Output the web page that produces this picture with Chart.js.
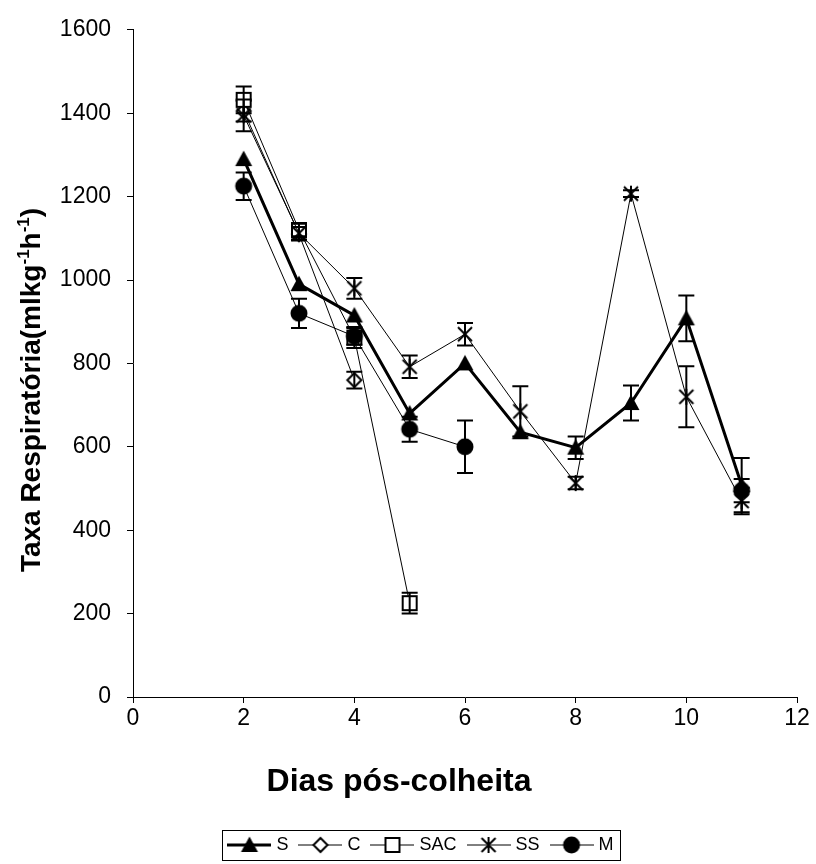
<!DOCTYPE html>
<html>
<head>
<meta charset="utf-8">
<script src="https://cdn.jsdelivr.net/npm/chart.js@4.4.0/dist/chart.umd.min.js"></script>
<style>
  html, body { margin: 0; padding: 0; background: #fff; }
</style>
</head>
<body>
<canvas id="taxaChart" width="816" height="864"></canvas>
<script>
// Dados (taxa respiratória, mL kg-1 h-1)
const dias = [2, 3, 4, 5, 6, 7, 8, 9, 10, 11];

const valoresS   = [1290, 990, 915, 680, 800, 635, 598, 705, 908, 508];
const errosS     = [0, 0, 0, 0, 0, 0, 27, 42, 55, 65];

const valoresC   = [1405, 1110, 760, null, null, null, null, null, null, null];
const errosC     = [25, 15, 20, 0, 0, 0, 0, 0, 0, 0];

const valoresSAC = [1432, 1120, 862, 225, null, null, null, null, null, null];
const errosSAC   = [32, 15, 25, 25, 0, 0, 0, 0, 0, 0];

const valoresSS  = [1395, 1112, 980, 792, 870, 685, 513, 1207, 720, 470];
const errosSS    = [38, 15, 25, 27, 27, 60, 15, 8, 73, 32];

const valoresM   = [1225, 920, 865, 642, 600, null, null, null, null, 495];
const errosM     = [33, 35, 20, 30, 63, 0, 0, 0, 0, 28];

const ticksX = { min: 0, max: 12, passo: 2 };
const ticksY = { min: 0, max: 1600, passo: 200 };

const fonte = "'Liberation Sans', Arial, sans-serif";

// desenha um marcador no estilo do Excel
function desenhaMarcador(ctx, tipo, cx, cy) {
    ctx.save();
    ctx.strokeStyle = '#000';
    ctx.fillStyle = '#000';
    if (tipo === 'triangulo') {
        ctx.beginPath();
        ctx.moveTo(cx, cy - 8.5);
        ctx.lineTo(cx + 8.5, cy + 7);
        ctx.lineTo(cx - 8.5, cy + 7);
        ctx.closePath();
        ctx.fill();
    } else if (tipo === 'losango') {
        ctx.lineWidth = 2;
        ctx.fillStyle = '#fff';
        ctx.beginPath();
        ctx.moveTo(cx, cy - 7);
        ctx.lineTo(cx + 7, cy);
        ctx.lineTo(cx, cy + 7);
        ctx.lineTo(cx - 7, cy);
        ctx.closePath();
        ctx.fill();
        ctx.stroke();
    } else if (tipo === 'quadrado') {
        ctx.lineWidth = 2;
        ctx.fillStyle = '#fff';
        ctx.fillRect(cx - 7, cy - 7, 14, 14);
        ctx.strokeRect(cx - 7, cy - 7, 14, 14);
    } else if (tipo === 'asterisco') {
        ctx.lineWidth = 2;
        ctx.beginPath();
        ctx.moveTo(cx - 7, cy - 7); ctx.lineTo(cx + 7, cy + 7);
        ctx.moveTo(cx + 7, cy - 7); ctx.lineTo(cx - 7, cy + 7);
        ctx.moveTo(cx, cy - 8); ctx.lineTo(cx, cy + 8);
        ctx.stroke();
    } else if (tipo === 'circulo') {
        ctx.beginPath();
        ctx.arc(cx, cy, 8.5, 0, Math.PI * 2);
        ctx.fill();
    }
    ctx.restore();
}

function marcador(tipo) {
    const c = document.createElement('canvas');
    c.width = 22; c.height = 22;
    desenhaMarcador(c.getContext('2d'), tipo, 11, 11);
    return c;
}

// amostra da legenda: linha + marcador
function amostraLegenda(tipo, espessura) {
    const c = document.createElement('canvas');
    c.width = 44; c.height = 22;
    const ctx = c.getContext('2d');
    ctx.strokeStyle = '#000';
    ctx.lineWidth = espessura;
    ctx.beginPath();
    ctx.moveTo(0, 11); ctx.lineTo(44, 11);
    ctx.stroke();
    desenhaMarcador(ctx, tipo, 22, 11);
    return c;
}

const series = [
    { nome: 'S',   valores: valoresS,   erros: errosS,   tipo: 'triangulo', espessura: 3 },
    { nome: 'C',   valores: valoresC,   erros: errosC,   tipo: 'losango',   espessura: 1 },
    { nome: 'SAC', valores: valoresSAC, erros: errosSAC, tipo: 'quadrado',  espessura: 1 },
    { nome: 'SS',  valores: valoresSS,  erros: errosSS,  tipo: 'asterisco', espessura: 1 },
    { nome: 'M',   valores: valoresM,   erros: errosM,   tipo: 'circulo',   espessura: 1 }
];

// barras de erro, desenhadas logo depois de cada série
const barrasErro = {
    id: 'barrasErro',
    afterDatasetDraw(chart, args) {
        const ds = chart.data.datasets[args.index];
        if (!ds.erros) return;
        const y = chart.scales.y;
        const ctx = chart.ctx;
        ctx.save();
        ctx.strokeStyle = '#000';
        ctx.lineWidth = 2;
        args.meta.data.forEach((pt, i) => {
            const v = ds.data[i].y;
            const e = ds.erros[i];
            if (v == null || !e) return;
            const topo = y.getPixelForValue(v + e);
            const base = y.getPixelForValue(v - e);
            ctx.beginPath();
            ctx.moveTo(pt.x, topo); ctx.lineTo(pt.x, base);
            ctx.moveTo(pt.x - 8, topo); ctx.lineTo(pt.x + 8, topo);
            ctx.moveTo(pt.x - 8, base); ctx.lineTo(pt.x + 8, base);
            ctx.stroke();
        });
        ctx.restore();
    }
};

// legenda deslocada como no original + moldura
const legendaMoldura = {
    id: 'legendaMoldura',
    afterLayout(chart) {
        const lg = chart.legend;
        const dx = 24;
        const dy = 822 - lg.top;
        lg.left += dx; lg.right += dx;
        lg.top += dy; lg.bottom += dy;
    },
    afterDraw(chart) {
        const caixas = chart.legend.legendHitBoxes;
        if (!caixas || !caixas.length) return;
        const ctx = chart.ctx;
        const primeiro = caixas[0];
        const ultimo = caixas[caixas.length - 1];
        const esq = primeiro.left - 9;
        const dir = ultimo.left + ultimo.width + 7;
        const meio = primeiro.top + primeiro.height / 2;
        ctx.save();
        ctx.strokeStyle = '#000';
        ctx.lineWidth = 1;
        ctx.strokeRect(Math.round(esq) + 0.5, Math.round(meio - 15) + 0.5, Math.round(dir - esq), 30);
        ctx.restore();
    }
};

// títulos dos eixos (com sobrescritos)
const titulos = {
    id: 'titulos',
    afterDraw(chart) {
        const ctx = chart.ctx;
        ctx.save();
        ctx.fillStyle = '#000';
        ctx.textBaseline = 'alphabetic';

        ctx.font = 'bold 32px ' + fonte;
        ctx.textAlign = 'center';
        ctx.fillText('Dias pós-colheita', 399, 791);

        const partes = [
            ['Taxa Respiratória(mlkg', false],
            ['-1', true],
            ['h', false],
            ['-1', true],
            [')', false]
        ];
        const fNormal = 'bold 28px ' + fonte;
        const fSup = 'bold 17px ' + fonte;
        let total = 0;
        partes.forEach(p => { ctx.font = p[1] ? fSup : fNormal; total += ctx.measureText(p[0]).width; });
        ctx.translate(40, 390);
        ctx.rotate(-Math.PI / 2);
        ctx.textAlign = 'left';
        let x = -total / 2;
        partes.forEach(p => {
            ctx.font = p[1] ? fSup : fNormal;
            ctx.fillText(p[0], x, p[1] ? -11 : 0);
            x += ctx.measureText(p[0]).width;
        });
        ctx.restore();
    }
};

const ctx = document.getElementById('taxaChart').getContext('2d');

const grafico = new Chart(ctx, {
    type: 'line',
    data: {
        datasets: series.map((s, i) => ({
            label: s.nome,
            data: dias.map((d, k) => ({ x: d, y: s.valores[k] })),
            erros: s.erros,
            borderColor: '#000',
            backgroundColor: '#000',
            borderWidth: s.espessura,
            pointStyle: marcador(s.tipo),
            pointRadius: 8,
            pointHoverRadius: 8,
            tension: 0,
            spanGaps: false,
            order: 5 - i, // séries seguintes ficam por cima
            amostra: amostraLegenda(s.tipo, s.espessura)
        }))
    },
    options: {
        responsive: false,
        animation: false,
        layout: { padding: { top: 25, right: 19, bottom: 0, left: 0 } },
        scales: {
            x: {
                type: 'linear',
                min: ticksX.min,
                max: ticksX.max,
                ticks: { stepSize: ticksX.passo, color: '#000', padding: 2, font: { family: fonte, size: 23 } },
                grid: { drawOnChartArea: false, drawTicks: true, tickLength: 6, color: '#000' },
                border: { color: '#000' },
                afterFit(scale) { scale.height = 125; }
            },
            y: {
                min: ticksY.min,
                max: ticksY.max,
                ticks: {
                    stepSize: ticksY.passo,
                    color: '#000',
                    padding: 16,
                    font: { family: fonte, size: 23 },
                    callback: v => String(v)
                },
                grid: { drawOnChartArea: false, drawTicks: true, tickLength: 6, color: '#000' },
                border: { color: '#000' },
                afterFit(scale) { scale.width = 133; }
            }
        },
        plugins: {
            tooltip: { enabled: false },
            legend: {
                position: 'bottom',
                labels: {
                    usePointStyle: true,
                    pointStyleWidth: 36,
                    boxHeight: 18,
                    padding: 14,
                    color: '#000',
                    font: { family: fonte, size: 18 },
                    generateLabels(chart) {
                        return chart.data.datasets.map((ds, i) => ({
                            text: ds.label,
                            pointStyle: ds.amostra,
                            datasetIndex: i,
                            hidden: false,
                            fillStyle: '#000',
                            strokeStyle: '#000',
                            lineWidth: 0,
                            fontColor: '#000'
                        }));
                    }
                }
            }
        }
    },
    plugins: [barrasErro, legendaMoldura, titulos]
});
</script>
</body>
</html>
